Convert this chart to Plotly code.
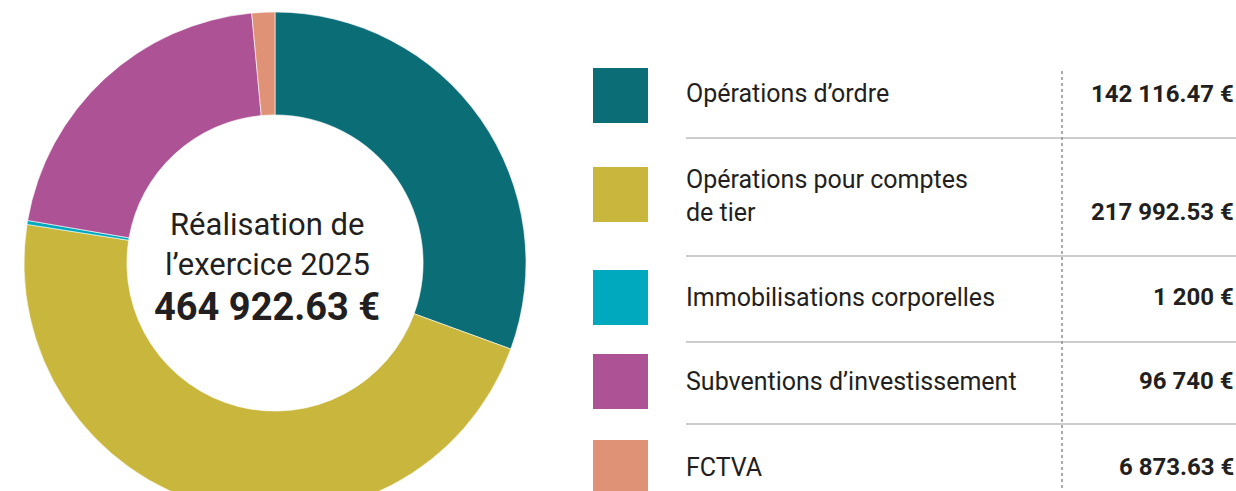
import plotly.graph_objects as go

categories = ["Opérations d’ordre", "Opérations pour comptes<br>de tier", "Immobilisations corporelles",
              "Subventions d’investissement", "FCTVA"]
values = [142116.47, 217992.53, 1200, 96740, 6873.63]
value_labels = ["142 116.47 €", "217 992.53 €", "1 200 €", "96 740 €", "6 873.63 €"]
colors = ["#0B6E76", "#C9B73D", "#00A9BD", "#AD5395", "#E09277"]
center_lines = ["Réalisation de", "l’exercice 2025"]
total_label = "464 922.63 €"

W, H = 1236, 530
FONT = "Roboto"
TXT = "#231f20"

def py(p):
    return 1 - p / H

def px(p):
    return p / W

fig = go.Figure(go.Pie(
    labels=[c.replace("<br>", " ") for c in categories],
    values=values,
    marker=dict(colors=colors, line=dict(color="white", width=0.6)),
    sort=False, direction="clockwise", rotation=0,
    hole=0.59, textinfo="none", hoverinfo="label+value",
    domain=dict(x=[px(24), px(526)], y=[py(514), py(12)]),
    showlegend=False,
))

shapes = []
annotations = []

sq_tops = [68, 167, 270, 354, 440]
label_y = [94, 196, 297, 381, 467]
value_y = [94, 212, 297, 381, 467]
for i, cat in enumerate(categories):
    shapes.append(dict(type="rect", xref="paper", yref="paper",
                       x0=px(593), x1=px(648), y0=py(sq_tops[i] + 55), y1=py(sq_tops[i]),
                       fillcolor=colors[i], line=dict(width=0)))
    annotations.append(dict(text=cat, xref="paper", yref="paper", x=px(684), y=py(label_y[i]),
                            xanchor="left", yanchor="middle", showarrow=False, align="left",
                            font=dict(family=FONT, size=25, color=TXT)))
    annotations.append(dict(text="<b>" + value_labels[i] + "</b>", xref="paper", yref="paper",
                            x=px(1236), y=py(value_y[i]), xanchor="right", yanchor="middle",
                            showarrow=False, font=dict(family=FONT, size=24, color=TXT)))

for ly in [138, 256, 342, 424]:
    shapes.append(dict(type="line", xref="paper", yref="paper", x0=px(686), x1=1, y0=py(ly), y1=py(ly),
                       line=dict(color="#BDBDBD", width=1.5)))
shapes.append(dict(type="line", xref="paper", yref="paper", x0=px(1062), x1=px(1062), y0=py(530), y1=py(68),
                   line=dict(color="#909090", width=1.5, dash="dot")))

annotations.append(dict(text=center_lines[0], xref="paper", yref="paper", x=px(267), y=py(224),
                        xanchor="center", yanchor="middle", showarrow=False,
                        font=dict(family=FONT, size=31, color=TXT)))
annotations.append(dict(text=center_lines[1], xref="paper", yref="paper", x=px(267), y=py(264),
                        xanchor="center", yanchor="middle", showarrow=False,
                        font=dict(family=FONT, size=31, color=TXT)))
annotations.append(dict(text="<b>" + total_label + "</b>", xref="paper", yref="paper", x=px(267), y=py(307),
                        xanchor="center", yanchor="middle", showarrow=False,
                        font=dict(family=FONT, size=38, color=TXT)))

fig.update_layout(width=W, height=H, margin=dict(l=0, r=0, t=0, b=0),
                  paper_bgcolor="white", plot_bgcolor="white",
                  shapes=shapes, annotations=annotations)

fig.write_html("out.html", config={"displayModeBar": False},
               post_script="document.body.style.margin='0';document.body.style.overflow='hidden';")
